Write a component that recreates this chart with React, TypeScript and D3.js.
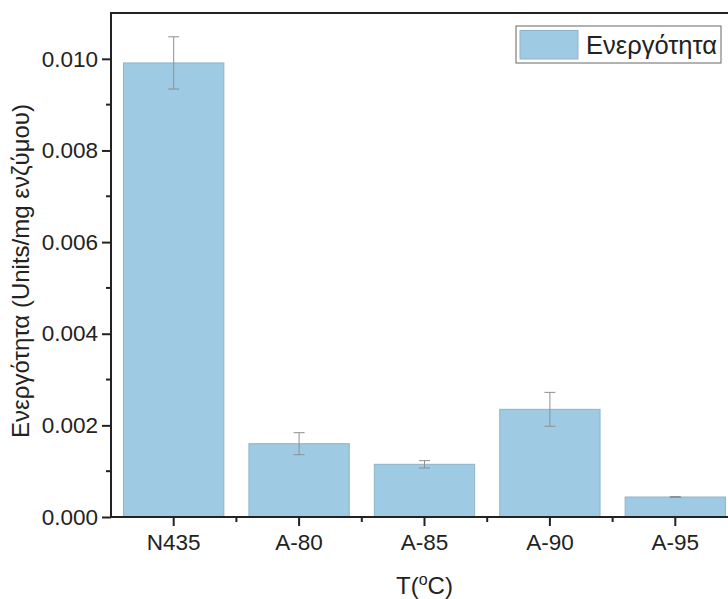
import React, { useEffect, useRef } from "react";
import * as d3 from "d3";

const categories = ["N435", "A-80", "A-85", "A-90", "A-95"];
const activity = [0.00991, 0.0016, 0.00115, 0.00235, 0.000436];
const activityErr = [0.00057, 0.00024, 0.00008, 0.00037, 0.00001];
const yTicks = [0, 0.002, 0.004, 0.006, 0.008, 0.01];
const legendLabel = "Ενεργότητα";
const yLabel = "Ενεργότητα (Units/mg ενζύμου)";

const App = () => {
  const svgRef = useRef<SVGSVGElement>(null);

  useEffect(() => {
    const width = 728;
    const height = 599;
    const margin = { top: 13, right: -10, bottom: 82, left: 111 };
    const font = "'Liberation Sans', Arial, sans-serif";

    const svg = d3.select(svgRef.current);
    svg.selectAll("*").remove();
    svg.attr("width", width).attr("height", height);

    const innerW = width - margin.left - margin.right;
    const innerH = height - margin.top - margin.bottom;

    const g = svg
      .append("g")
      .attr("transform", `translate(${margin.left},${margin.top})`);

    // category bands (ticks between bands sit at band edges)
    const x = d3.scaleBand<string>().domain(categories).range([0, innerW]).padding(0);
    const y = d3.scaleLinear().domain([0, 0.011]).range([innerH, 0]);

    const barW = x.bandwidth() * 0.8;

    // bars
    g.selectAll("rect.bar")
      .data(categories)
      .enter()
      .append("rect")
      .attr("class", "bar")
      .attr("x", (d) => x(d)! + (x.bandwidth() - barW) / 2)
      .attr("y", (d, i) => y(activity[i]))
      .attr("width", barW)
      .attr("height", (d, i) => innerH - y(activity[i]))
      .attr("fill", "#9ecae3")
      .attr("stroke", "#8fb3c9")
      .attr("stroke-width", 1);

    // error bars
    const err = g.append("g").attr("stroke", "#8f8f8f").attr("stroke-width", 1);
    categories.forEach((c, i) => {
      const cx = x(c)! + x.bandwidth() / 2;
      const hi = y(activity[i] + activityErr[i]);
      const lo = y(activity[i] - activityErr[i]);
      err.append("line").attr("x1", cx).attr("x2", cx).attr("y1", hi).attr("y2", lo);
      err.append("line").attr("x1", cx - 5.5).attr("x2", cx + 5.5).attr("y1", hi).attr("y2", hi);
      err.append("line").attr("x1", cx - 5.5).attr("x2", cx + 5.5).attr("y1", lo).attr("y2", lo);
    });

    // y axis
    const yAxis = g
      .append("g")
      .call(
        d3
          .axisLeft(y)
          .tickValues(yTicks)
          .tickSize(9)
          .tickPadding(4)
          .tickFormat(d3.format(".3f"))
      );
    yAxis.select(".domain").remove();
    yAxis.selectAll("line").attr("stroke", "#222").attr("stroke-width", 2);
    yAxis
      .selectAll("text")
      .attr("font-family", font)
      .attr("font-size", 22.5)
      .attr("fill", "#222");
    // minor y ticks
    g.append("g")
      .selectAll("line")
      .data(yTicks.slice(0, -1).map((v) => v + 0.001))
      .enter()
      .append("line")
      .attr("x1", -5)
      .attr("x2", 0)
      .attr("y1", (d) => y(d))
      .attr("y2", (d) => y(d))
      .attr("stroke", "#222")
      .attr("stroke-width", 2);

    // x axis
    const xAxis = g
      .append("g")
      .attr("transform", `translate(0,${innerH})`)
      .call(d3.axisBottom(x).tickSize(9).tickPadding(8));
    xAxis.select(".domain").remove();
    xAxis.selectAll("line").attr("stroke", "#222").attr("stroke-width", 2);
    xAxis
      .selectAll("text")
      .attr("font-family", font)
      .attr("font-size", 22.5)
      .attr("fill", "#222");
    // minor x ticks at band edges
    g.append("g")
      .selectAll("line")
      .data(categories.slice(1))
      .enter()
      .append("line")
      .attr("x1", (d) => x(d)!)
      .attr("x2", (d) => x(d)!)
      .attr("y1", innerH)
      .attr("y2", innerH + 5)
      .attr("stroke", "#222")
      .attr("stroke-width", 2);

    // frame lines
    g.append("line")
      .attr("x1", 0).attr("x2", 0).attr("y1", 0).attr("y2", innerH + 1)
      .attr("stroke", "#222").attr("stroke-width", 2);
    g.append("line")
      .attr("x1", -1).attr("x2", innerW).attr("y1", innerH).attr("y2", innerH)
      .attr("stroke", "#222").attr("stroke-width", 2);
    g.append("line")
      .attr("x1", -1).attr("x2", innerW).attr("y1", 0).attr("y2", 0)
      .attr("stroke", "#222").attr("stroke-width", 2);

    // axis titles
    svg
      .append("text")
      .attr("transform", `translate(29,${margin.top + innerH / 2 + 6}) rotate(-90)`)
      .attr("text-anchor", "middle")
      .attr("font-family", font)
      .attr("font-size", 24)
      .attr("fill", "#222")
      .text(yLabel);

    const xt = svg
      .append("text")
      .attr("x", margin.left + innerW / 2)
      .attr("y", 594)
      .attr("text-anchor", "middle")
      .attr("font-family", font)
      .attr("font-size", 24)
      .attr("fill", "#222");
    xt.append("tspan").text("T(");
    xt.append("tspan").attr("font-size", 16).attr("dy", -9).text("o");
    xt.append("tspan").attr("dy", 9).text("C)");

    // legend
    const lg = svg.append("g").attr("transform", "translate(516,26)");
    lg.append("rect")
      .attr("width", 205)
      .attr("height", 37)
      .attr("fill", "white")
      .attr("stroke", "#666")
      .attr("stroke-width", 1);
    lg.append("rect")
      .attr("x", 4)
      .attr("y", 4.5)
      .attr("width", 58)
      .attr("height", 28.5)
      .attr("fill", "#9ecae3")
      .attr("stroke", "#8fb3c9");
    lg.append("text")
      .attr("x", 70)
      .attr("y", 28)
      .attr("font-family", font)
      .attr("font-size", 25.5)
      .attr("fill", "#222")
      .text(legendLabel);
  }, []);

  return <svg ref={svgRef} style={{ position: "absolute", left: 0, top: 0 }}></svg>;
};

export default App;
